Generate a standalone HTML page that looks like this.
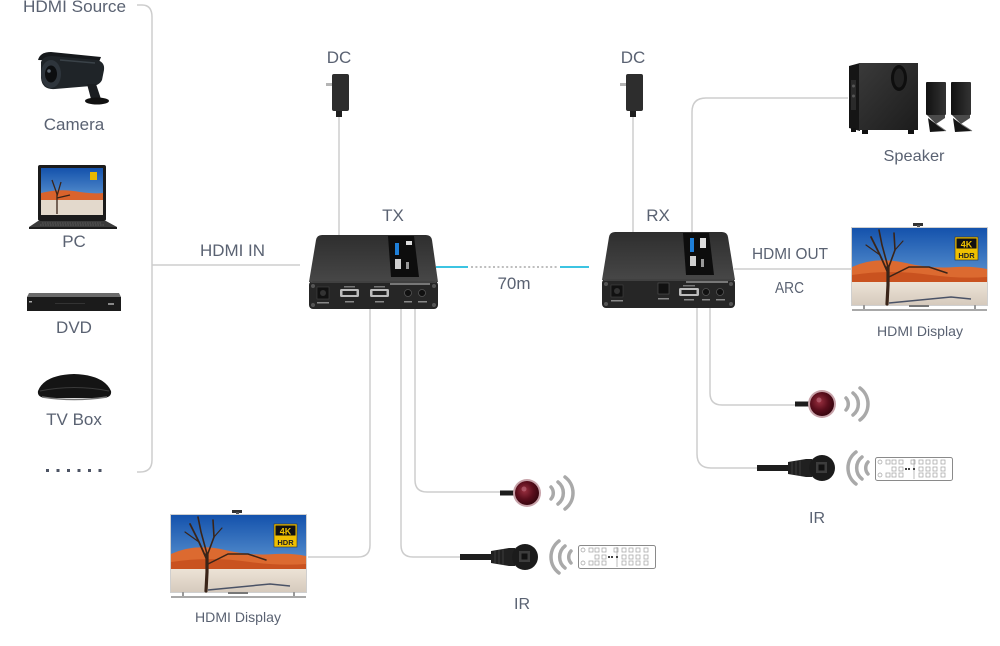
<!DOCTYPE html>
<html>
<head>
<meta charset="utf-8">
<style>
  html,body{margin:0;padding:0;background:#fff;}
  body{width:1000px;height:646px;overflow:hidden;}
  svg{display:block;}
  text{font-family:"Liberation Sans",sans-serif;fill:#5a6272;}
</style>
</head>
<body>
<svg width="1000" height="646" viewBox="0 0 1000 646" xmlns="http://www.w3.org/2000/svg">
  <defs>
    <linearGradient id="sky" x1="0" y1="0" x2="0" y2="1">
      <stop offset="0" stop-color="#1452ac"/>
      <stop offset="1" stop-color="#7fb4e2"/>
    </linearGradient>
    <linearGradient id="ground" x1="0" y1="0" x2="0" y2="1">
      <stop offset="0" stop-color="#ece3d6"/>
      <stop offset="1" stop-color="#d6cabd"/>
    </linearGradient>
    <linearGradient id="topface" x1="0" y1="0" x2="0" y2="1">
      <stop offset="0" stop-color="#2e2e2e"/>
      <stop offset="1" stop-color="#474747"/>
    </linearGradient>
    <linearGradient id="sub" x1="0" y1="0" x2="1" y2="1">
      <stop offset="0" stop-color="#3a3a3a"/>
      <stop offset="1" stop-color="#1c1c1c"/>
    </linearGradient>
    <linearGradient id="sat" x1="0" y1="0" x2="1" y2="0">
      <stop offset="0" stop-color="#111"/>
      <stop offset="1" stop-color="#333"/>
    </linearGradient>
    <radialGradient id="ired" cx="0.4" cy="0.4" r="0.6">
      <stop offset="0" stop-color="#9a3040"/>
      <stop offset="0.6" stop-color="#5a0e1c"/>
      <stop offset="1" stop-color="#3a0610"/>
    </radialGradient>

    <!-- TV display -->
    <g id="tv">
      <rect x="62" y="0" width="10" height="3" fill="#333"/>
      <rect x="66" y="2" width="3" height="3" fill="#555"/>
      <rect x="0" y="4" width="137" height="79" fill="#cfcfcf"/>
      <rect x="1" y="5" width="135" height="77" fill="url(#sky)"/>
      <path d="M1 44 Q25 33 55 40 Q80 46 105 44 Q122 43 136 46 L136 62 L1 60 Z" fill="#dc6a30"/>
      <path d="M1 52 Q40 46 80 52 Q110 56 136 54 L136 62 L1 60 Z" fill="#c9521f"/>
      <rect x="1" y="59" width="135" height="23" fill="url(#ground)"/>
      <path d="M38 80 L100 74 L120 76" stroke="#4a5266" stroke-width="1.5" fill="none"/>
      <g stroke="#3a2418" fill="none" stroke-linecap="round">
        <path d="M36 81 L37 62 L37 44" stroke-width="3.2"/>
        <path d="M37 50 L29 32 L20 14" stroke-width="1.8"/>
        <path d="M37 44 L31 22 L28 7" stroke-width="1.6"/>
        <path d="M37 46 L44 27 L43 10" stroke-width="1.6"/>
        <path d="M38 54 L58 44 L78 44 L96 50" stroke-width="1.5"/>
        <path d="M29 32 L15 22" stroke-width="1.2"/>
        <path d="M44 27 L52 18" stroke-width="1.1"/>
      </g>
      <rect x="104" y="14" width="23" height="23" fill="#f0c000" stroke="#333" stroke-width="0.6"/>
      <rect x="105.5" y="15.5" width="20" height="10" fill="#111"/>
      <text x="115.5" y="24.5" text-anchor="middle" style="font-size:9px;font-weight:bold;fill:#f2c400;">4K</text>
      <text x="115.5" y="35" text-anchor="middle" style="font-size:7.5px;font-weight:bold;fill:#222;">HDR</text>
      <rect x="12" y="82" width="2" height="5" fill="#999"/>
      <rect x="123" y="82" width="2" height="5" fill="#999"/>
      <rect x="58" y="82" width="20" height="2" fill="#777"/>
      <rect x="1" y="86" width="135" height="2" fill="#a8a8a8"/>
    </g>

    <!-- remote -->
    <g id="remote">
      <rect x="0.5" y="0.5" width="77" height="23" rx="2" fill="#fff" stroke="#8a8a8a" stroke-width="1"/>
      <g fill="none" stroke="#a0a0a0" stroke-width="0.7">
        <circle cx="5" cy="5" r="2"/><circle cx="5" cy="18" r="2"/>
        <rect x="11" y="3" width="4" height="4"/><rect x="17" y="3" width="4" height="4"/><rect x="24" y="3" width="4" height="4"/>
        <rect x="36" y="3" width="4" height="4"/><rect x="44" y="3" width="4" height="4"/><rect x="51" y="3" width="4" height="4"/><rect x="58" y="3" width="4" height="4"/><rect x="66" y="3" width="4" height="4"/>
        <rect x="17" y="10" width="4" height="4"/><rect x="24" y="10" width="4" height="4"/>
        <rect x="44" y="10" width="4" height="4"/><rect x="51" y="10" width="4" height="4"/><rect x="58" y="10" width="4" height="4"/><rect x="66" y="10" width="4" height="4"/>
        <rect x="11" y="16" width="4" height="4"/><rect x="17" y="16" width="4" height="4"/><rect x="24" y="16" width="4" height="4"/>
        <rect x="44" y="16" width="4" height="4"/><rect x="51" y="16" width="4" height="4"/><rect x="58" y="16" width="4" height="4"/><rect x="66" y="16" width="4" height="4"/>
        <line x1="39" y1="2" x2="39" y2="22"/>
      </g>
      <g fill="#444"><rect x="33" y="11" width="2" height="2"/><rect x="38" y="11" width="2" height="2"/><rect x="30" y="11" width="2" height="2"/></g>
    </g>

    <!-- IR emitter, centered at 0,0 -->
    <g id="emit">
      <rect x="-27" y="-2.5" width="15" height="5" fill="#1c1c1c"/>
      <circle r="14" fill="#c7a2a9"/>
      <circle r="12" fill="url(#ired)"/>
      <circle cx="-3" cy="-4" r="2.5" fill="#c07080" opacity="0.6"/>
      <g fill="none" stroke="#a9a9a9" stroke-width="3.5" stroke-linecap="round">
        <path d="M24 -6 A9 9 0 0 1 24 6"/>
        <path d="M31 -11 A14 14 0 0 1 31 11"/>
        <path d="M38 -16 A20 20 0 0 1 38 16"/>
      </g>
    </g>

    <!-- IR receiver, head centered at 0,0 -->
    <g id="recv">
      <rect x="-65" y="-3" width="34" height="6" fill="#1e1e1e"/>
      <path d="M-34 -6 L-16 -9 L-10 -9 L-10 9 L-16 9 L-34 6 Z" fill="#202020"/>
      <g stroke="#3c3c3c" stroke-width="1"><line x1="-30" y1="-6" x2="-30" y2="6"/><line x1="-26" y1="-7" x2="-26" y2="7"/><line x1="-22" y1="-8" x2="-22" y2="8"/></g>
      <circle r="13" fill="#1b1b1b"/>
      <rect x="-6" y="-6" width="11" height="11" fill="#3c3c3c"/>
      <rect x="-3.5" y="-3.5" width="6" height="6" fill="#111"/>
      <g fill="none" stroke="#a9a9a9" stroke-width="3.5" stroke-linecap="round">
        <path d="M46 -6 A9 9 0 0 0 46 6"/>
        <path d="M40 -11 A14 14 0 0 0 40 11"/>
        <path d="M34 -16 A20 20 0 0 0 34 16"/>
      </g>
    </g>

    <!-- DC adapter -->
    <g id="dc">
      <rect x="-7" y="0" width="17" height="37" rx="2" fill="#2d2d2d"/>
      <rect x="-13" y="9" width="6" height="3" fill="#b5b5b5"/>
      <rect x="-3" y="37" width="6" height="6" fill="#1e1e1e"/>
    </g>
  </defs>

  <!-- ===== Connectors ===== -->
  <g fill="none" stroke="#cdcdcd" stroke-width="1.5">
    <path d="M137 5 L142 5 Q152 5 152 17 L152 460 Q152 472 140 472 L137 472"/>
    <line x1="152" y1="265" x2="300" y2="265"/>
    <line x1="339" y1="117" x2="339" y2="235"/>
    <line x1="633" y1="117" x2="633" y2="232"/>
    <path d="M692 232 L692 112 Q692 98 706 98 L848 98"/>
    <line x1="734" y1="269" x2="852" y2="269"/>
    <path d="M370 309 L370 545 Q370 557 358 557 L308 557"/>
    <path d="M401 309 L401 545 Q401 557 413 557 L460 557"/>
    <path d="M415 309 L415 480 Q415 492 427 492 L500 492"/>
    <path d="M697 308 L697 454 Q697 468 711 468 L757 468"/>
    <path d="M710 308 L710 393 Q710 405 722 405 L795 405"/>
  </g>
  <!-- 70m link -->
  <line x1="436" y1="267" x2="468" y2="267" stroke="#3cc4e2" stroke-width="2"/>
  <line x1="471" y1="267" x2="557" y2="267" stroke="#a8a8a8" stroke-width="1.5" stroke-dasharray="2 2.4"/>
  <line x1="560" y1="267" x2="589" y2="267" stroke="#3cc4e2" stroke-width="2"/>

  <!-- ===== Left column ===== -->
  <text x="23" y="12" style="font-size:17px" textLength="103" lengthAdjust="spacingAndGlyphs">HDMI Source</text>

  <!-- Camera -->
  <g>
    <path d="M38 60 Q40 52 51 52 L101 57 L99 62 Z" fill="#15181b"/>
    <path d="M41 62 Q43 56 52 56 L97 60 Q105 62 104 70 L102 80 Q99 86 91 86 L55 89 Q42 90 41 78 Z" fill="#1f2428"/>
    <ellipse cx="51" cy="74" rx="10" ry="14" fill="#2e353c"/>
    <ellipse cx="51" cy="74" rx="6" ry="8.5" fill="#0c0e10"/>
    <circle cx="49" cy="71" r="1.8" fill="#5a6570"/>
    <path d="M60 60 L95 63" stroke="#3a4248" stroke-width="1.5"/>
    <path d="M87 84 L96 84 L101 99 L91 99 Z" fill="#1a1d20"/>
    <ellipse cx="97" cy="101" rx="12" ry="3.5" fill="#111"/>
  </g>
  <text x="74" y="130" text-anchor="middle" style="font-size:17px">Camera</text>

  <!-- Laptop -->
  <g>
    <rect x="38" y="165" width="68" height="56" rx="2" fill="#1b1b1b"/>
    <rect x="41" y="168" width="62" height="47" fill="url(#sky)"/>
    <path d="M41 193 Q60 188 80 192 Q95 194 103 193 L103 202 L41 201 Z" fill="#d9632c"/>
    <rect x="41" y="200" width="62" height="15" fill="#e3d9cc"/>
    <path d="M57 214 L57 194 L52 180 M57 196 L61 182 M57 198 L70 195" stroke="#3a2418" stroke-width="1.3" fill="none"/>
    <rect x="90" y="172" width="7" height="8" fill="#e8b800"/>
    <path d="M38 221 L106 221 L117 227 L29 227 Z" fill="#3b3b3b"/>
    <path d="M42 223 L102 223" stroke="#666" stroke-width="0.8" stroke-dasharray="1.5 1"/>
    <path d="M40 225 L104 225" stroke="#666" stroke-width="0.8" stroke-dasharray="1.5 1"/>
    <rect x="29" y="227" width="88" height="2" fill="#1d1d1d"/>
  </g>
  <text x="74" y="247" text-anchor="middle" style="font-size:17px">PC</text>

  <!-- DVD -->
  <g>
    <path d="M29 293 L119 293 L121 297 L27 297 Z" fill="#6b6b6b"/>
    <rect x="27" y="297" width="94" height="14" fill="#1b1b1b"/>
    <rect x="29" y="301" width="3" height="1.5" fill="#aaa"/>
    <rect x="55" y="303" width="30" height="1" fill="#333"/>
    <rect x="108" y="303" width="6" height="2" fill="#888"/>
  </g>
  <text x="74" y="333" text-anchor="middle" style="font-size:17px">DVD</text>

  <!-- TV Box -->
  <g>
    <path d="M38 391 Q44 375 74 374 Q104 375 111 391 Q112 397 104 398 L45 398 Q37 397 38 391 Z" fill="#141414"/>
    <path d="M40 391 Q74 384 109 391" stroke="#3a3a3a" stroke-width="1" fill="none"/>
    <path d="M42 397 Q74 402 107 397" stroke="#777" stroke-width="1.6" fill="none"/>
  </g>
  <text x="74" y="425" text-anchor="middle" style="font-size:17px">TV Box</text>

  <g fill="#4d5464">
    <rect x="46" y="469" width="3" height="3"/><rect x="56.5" y="469" width="3" height="3"/>
    <rect x="67" y="469" width="3" height="3"/><rect x="77.5" y="469" width="3" height="3"/>
    <rect x="88" y="469" width="3" height="3"/><rect x="98.5" y="469" width="3" height="3"/>
  </g>

  <text x="200" y="256" style="font-size:17px" textLength="65" lengthAdjust="spacingAndGlyphs">HDMI IN</text>

  <!-- ===== DC ===== -->
  <text x="339" y="63" text-anchor="middle" style="font-size:17px">DC</text>
  <use href="#dc" x="339" y="74"/>
  <text x="633" y="63" text-anchor="middle" style="font-size:17px">DC</text>
  <use href="#dc" x="633" y="74"/>

  <!-- ===== TX ===== -->
  <text x="393" y="221" text-anchor="middle" style="font-size:17px">TX</text>
  <g>
    <path d="M322 235 L426 235 Q431 235 432 240 L438 282 L309 282 L316 240 Q317 235 322 235 Z" fill="url(#topface)"/>
    <path d="M388 236 L414 236 L419 277 L391 277 Z" fill="#0d0d0d"/>
    <rect x="395" y="243" width="4" height="12" fill="#1e7fd8"/>
    <rect x="406" y="241" width="6" height="4" fill="#ddd"/>
    <rect x="395" y="259" width="6" height="10" fill="#cfcfcf"/>
    <rect x="406" y="262" width="3" height="7" fill="#999"/>
    <rect x="309" y="281" width="129" height="28" rx="4" fill="#262626"/>
    <line x1="311" y1="282" x2="436" y2="282" stroke="#5a5a5a" stroke-width="1"/>
    <rect x="390" y="283" width="40" height="2" fill="#777"/>
    <circle cx="313" cy="286" r="2" fill="#555"/><circle cx="434" cy="286" r="2" fill="#555"/>
    <circle cx="313" cy="305" r="2" fill="#555"/><circle cx="434" cy="305" r="2" fill="#555"/>
    <rect x="317" y="287" width="12" height="12" fill="#111" stroke="#444" stroke-width="0.6"/>
    <circle cx="323" cy="293" r="3" fill="#333"/>
    <rect x="317" y="302" width="12" height="1.5" fill="#888"/>
    <rect x="340" y="289" width="19" height="8" rx="1.5" fill="#bdbdbd"/>
    <rect x="342.5" y="291" width="14" height="4" fill="#222"/>
    <rect x="344" y="286" width="11" height="1.5" fill="#777"/><rect x="345" y="301" width="9" height="1.5" fill="#888"/>
    <rect x="370" y="289" width="19" height="8" rx="1.5" fill="#bdbdbd"/>
    <rect x="372.5" y="291" width="14" height="4" fill="#222"/>
    <rect x="374" y="286" width="11" height="1.5" fill="#777"/><rect x="375" y="301" width="9" height="1.5" fill="#888"/>
    <circle cx="408" cy="293" r="3.5" fill="#111" stroke="#555" stroke-width="0.8"/>
    <circle cx="422" cy="293" r="3.5" fill="#111" stroke="#555" stroke-width="0.8"/>
    <rect x="404" y="301" width="8" height="1.5" fill="#888"/><rect x="418" y="301" width="9" height="1.5" fill="#888"/>
  </g>

  <text x="514" y="289" text-anchor="middle" style="font-size:17px">70m</text>

  <!-- ===== RX ===== -->
  <text x="658" y="221" text-anchor="middle" style="font-size:17px">RX</text>
  <g>
    <path d="M615 232 L722 232 Q727 232 728 237 L735 280 L602 280 L609 237 Q610 232 615 232 Z" fill="url(#topface)"/>
    <path d="M683 233 L709 233 L714 275 L686 275 Z" fill="#0d0d0d"/>
    <rect x="690" y="238" width="4" height="14" fill="#1e7fd8"/>
    <rect x="700" y="238" width="6" height="10" fill="#ddd"/>
    <rect x="690" y="256" width="6" height="10" fill="#cfcfcf"/>
    <rect x="701" y="259" width="3" height="8" fill="#999"/>
    <rect x="602" y="279" width="133" height="29" rx="4" fill="#262626"/>
    <line x1="604" y1="280" x2="733" y2="280" stroke="#5a5a5a" stroke-width="1"/>
    <rect x="686" y="281" width="42" height="2" fill="#777"/>
    <circle cx="606" cy="284" r="2" fill="#555"/><circle cx="731" cy="284" r="2" fill="#555"/>
    <circle cx="606" cy="304" r="2" fill="#555"/><circle cx="731" cy="304" r="2" fill="#555"/>
    <rect x="611" y="285" width="12" height="12" fill="#111" stroke="#444" stroke-width="0.6"/>
    <circle cx="617" cy="291" r="3" fill="#333"/>
    <rect x="611" y="300" width="12" height="1.5" fill="#888"/>
    <rect x="658" y="283" width="11" height="11" fill="#111" stroke="#555" stroke-width="0.6"/>
    <rect x="658" y="298" width="11" height="1.5" fill="#888"/>
    <rect x="679" y="288" width="20" height="8" rx="1.5" fill="#bdbdbd"/>
    <rect x="681.5" y="290" width="15" height="4" fill="#222"/>
    <rect x="683" y="285" width="12" height="1.5" fill="#777"/><rect x="684" y="299" width="10" height="1.5" fill="#888"/>
    <circle cx="706" cy="292" r="3.5" fill="#111" stroke="#555" stroke-width="0.8"/>
    <circle cx="720" cy="292" r="3.5" fill="#111" stroke="#555" stroke-width="0.8"/>
    <rect x="702" y="299" width="8" height="1.5" fill="#888"/><rect x="716" y="299" width="9" height="1.5" fill="#888"/>
  </g>

  <text x="752" y="259" style="font-size:16px" textLength="76" lengthAdjust="spacingAndGlyphs">HDMI OUT</text>
  <text x="775" y="293" style="font-size:16px" textLength="29" lengthAdjust="spacingAndGlyphs">ARC</text>

  <!-- ===== Speaker ===== -->
  <g>
    <path d="M849 66 L860 63 L860 131 L849 128 Z" fill="#151515"/>
    <rect x="851" y="80" width="5" height="30" fill="#2a2a2a"/>
    <circle cx="853.5" cy="86" r="1.5" fill="#555"/><circle cx="853.5" cy="96" r="1.5" fill="#555"/>
    <rect x="859" y="63" width="59" height="67" fill="url(#sub)"/>
    <ellipse cx="899" cy="78" rx="8" ry="13" fill="#0e0e0e"/>
    <ellipse cx="899" cy="78" rx="5" ry="9.5" fill="#222"/>
    <rect x="862" y="130" width="6" height="4" fill="#111"/><rect x="908" y="130" width="6" height="4" fill="#111"/>
    <rect x="851" y="128" width="5" height="4" fill="#111"/>
    <!-- satellites -->
    <rect x="926" y="82" width="20" height="33" rx="1" fill="url(#sat)"/>
    <path d="M927 115 L945 115 L945 118 L936 124 Z" fill="#4a4a4a"/>
    <path d="M928 118 L936 124 L946 131 L930 132 Z" fill="#151515"/>
    <path d="M936 124 L946 131" stroke="#777" stroke-width="1"/>
    <rect x="951" y="82" width="20" height="33" rx="1" fill="url(#sat)"/>
    <path d="M952 115 L970 115 L970 118 L961 124 Z" fill="#4a4a4a"/>
    <path d="M953 118 L961 124 L972 131 L955 132 Z" fill="#151515"/>
    <path d="M961 124 L972 131" stroke="#777" stroke-width="1"/>
  </g>
  <text x="914" y="161" text-anchor="middle" style="font-size:16px" textLength="61" lengthAdjust="spacingAndGlyphs">Speaker</text>

  <!-- ===== Displays ===== -->
  <use href="#tv" x="851" y="223"/>
  <text x="920" y="336" text-anchor="middle" style="font-size:14px" textLength="86" lengthAdjust="spacingAndGlyphs">HDMI Display</text>

  <use href="#tv" x="170" y="510"/>
  <text x="238" y="622" text-anchor="middle" style="font-size:14px" textLength="86" lengthAdjust="spacingAndGlyphs">HDMI Display</text>

  <!-- ===== IR TX side ===== -->
  <use href="#emit" x="527" y="493"/>
  <use href="#recv" x="525" y="557"/>
  <use href="#remote" x="578" y="545"/>
  <text x="522" y="609" text-anchor="middle" style="font-size:16px">IR</text>

  <!-- ===== IR RX side ===== -->
  <use href="#emit" x="822" y="404"/>
  <use href="#recv" x="822" y="468"/>
  <use href="#remote" x="875" y="457"/>
  <text x="817" y="523" text-anchor="middle" style="font-size:16px">IR</text>
</svg>
</body>
</html>
